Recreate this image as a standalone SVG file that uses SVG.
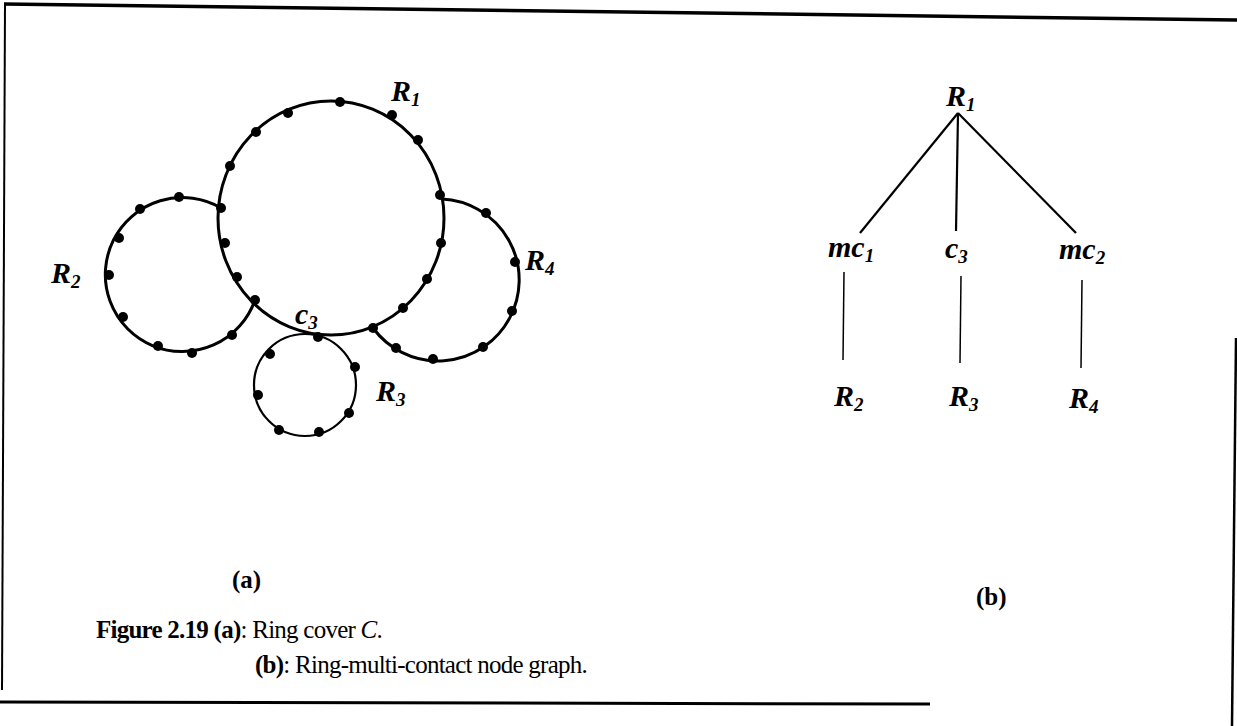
<svg xmlns="http://www.w3.org/2000/svg" width="1237" height="726" viewBox="0 0 1237 726">
<style>
.ring{fill:none;stroke:#000;stroke-width:3}
.ring3{fill:none;stroke:#000;stroke-width:2.2}
.dot{fill:#000}
.lbl{font-family:"Liberation Serif",serif;font-style:italic;font-weight:bold;font-size:30px;fill:#000}
.sub{font-size:19px}
.cap{font-family:"Liberation Serif",serif;font-size:25px;fill:#000}
.capl{letter-spacing:-0.75px}
.b{font-weight:bold}
.edge{stroke:#000;stroke-width:2.2;fill:none}
.edge2{stroke:#000;stroke-width:1.5;fill:none}
.frame{stroke:#000;fill:none}
</style>
<rect width="1237" height="726" fill="#fff"/>
<g id="frame">
<line class="frame" x1="4" y1="4" x2="1237" y2="20" stroke-width="3.5"/>
<line class="frame" x1="5" y1="4" x2="2" y2="690" stroke-width="2"/>
<line class="frame" x1="1236" y1="338" x2="1232" y2="726" stroke-width="2.5"/>
<line class="frame" x1="0" y1="702" x2="930" y2="704" stroke-width="3"/>
</g>
<g id="ringR1">
<ellipse class="ring" cx="331" cy="218" rx="113" ry="117"/>
<g class="dot">
<circle cx="340" cy="102" r="5"/><circle cx="288" cy="113" r="5"/><circle cx="256" cy="132" r="5"/>
<circle cx="230" cy="166" r="5"/><circle cx="221" cy="208" r="5"/><circle cx="225" cy="243" r="5"/>
<circle cx="237" cy="277" r="5"/><circle cx="255" cy="300" r="5"/><circle cx="373" cy="328" r="5"/>
<circle cx="403" cy="308" r="5"/><circle cx="427" cy="279" r="5"/><circle cx="441" cy="243" r="5"/>
<circle cx="440" cy="195" r="5"/><circle cx="418" cy="140" r="5"/><circle cx="392" cy="115" r="5"/>
</g>
<text class="lbl" x="391" y="101">R<tspan class="sub" dy="5">1</tspan></text>
</g>
<g id="ringR2">
<path class="ring" d="M221,208 A77,77 0 1,0 255,300"/>
<g class="dot">
<circle cx="179" cy="197" r="5"/><circle cx="140" cy="209" r="5"/><circle cx="119" cy="238" r="5"/>
<circle cx="109" cy="275" r="5"/><circle cx="123" cy="317" r="5"/><circle cx="158" cy="346" r="5"/>
<circle cx="192" cy="353" r="5"/><circle cx="232" cy="335" r="5"/>
</g>
<text class="lbl" x="51" y="283">R<tspan class="sub" dy="5">2</tspan></text>
</g>
<g id="ringR4">
<path class="ring" d="M442,199 A81,81 0 1,1 373,328"/>
<g class="dot">
<circle cx="486" cy="213" r="5"/><circle cx="515" cy="262" r="5"/><circle cx="512" cy="311" r="5"/>
<circle cx="483" cy="347" r="5"/><circle cx="433" cy="359" r="5"/><circle cx="396" cy="348" r="5"/>
</g>
<text class="lbl" x="525" y="270">R<tspan class="sub" dy="5">4</tspan></text>
</g>
<g id="ringR3">
<circle class="ring3" cx="305" cy="385" r="51"/>
<g class="dot">
<circle cx="318" cy="337" r="5"/><circle cx="270" cy="354" r="5"/><circle cx="258" cy="395" r="5"/>
<circle cx="279" cy="430" r="5"/><circle cx="319" cy="432" r="5"/><circle cx="349" cy="413" r="5"/>
<circle cx="355" cy="367" r="5"/>
</g>
<text class="lbl" x="376" y="401">R<tspan class="sub" dy="5">3</tspan></text>
<text class="lbl" x="295" y="324">c<tspan class="sub" dy="5">3</tspan></text>
</g>
<g id="connectors">
<line class="edge" x1="958" y1="113" x2="860" y2="233"/>
<line class="edge" x1="958" y1="113" x2="956" y2="231"/>
<line class="edge" x1="958" y1="113" x2="1076" y2="233"/>
<line class="edge2" x1="844" y1="272" x2="843" y2="360"/>
<line class="edge2" x1="961" y1="276" x2="960" y2="363"/>
<line class="edge2" x1="1082" y1="280" x2="1081" y2="368"/>
</g>
<g id="nodeR1"><text class="lbl" x="946" y="106">R<tspan class="sub" dy="5">1</tspan></text></g>
<g id="nodeMC1"><text class="lbl" x="828" y="257">mc<tspan class="sub" dy="5">1</tspan></text></g>
<g id="nodeC3"><text class="lbl" x="945" y="258">c<tspan class="sub" dy="5">3</tspan></text></g>
<g id="nodeMC2"><text class="lbl" x="1059" y="259">mc<tspan class="sub" dy="5">2</tspan></text></g>
<g id="nodeR2"><text class="lbl" x="834" y="406">R<tspan class="sub" dy="5">2</tspan></text></g>
<g id="nodeR3"><text class="lbl" x="949" y="406">R<tspan class="sub" dy="5">3</tspan></text></g>
<g id="nodeR4"><text class="lbl" x="1069" y="408">R<tspan class="sub" dy="5">4</tspan></text></g>
<g id="labels">
<text class="cap b" x="232" y="588" font-size="27">(a)</text>
<text class="cap b" x="976" y="605" font-size="27">(b)</text>
<text class="cap capl" x="96" y="638"><tspan class="b">Figure 2.19 (a)</tspan>: Ring cover <tspan font-style="italic">C</tspan>.</text>
<text class="cap capl" x="255" y="673"><tspan class="b">(b)</tspan>: Ring-multi-contact node graph.</text>
</g>
</svg>
